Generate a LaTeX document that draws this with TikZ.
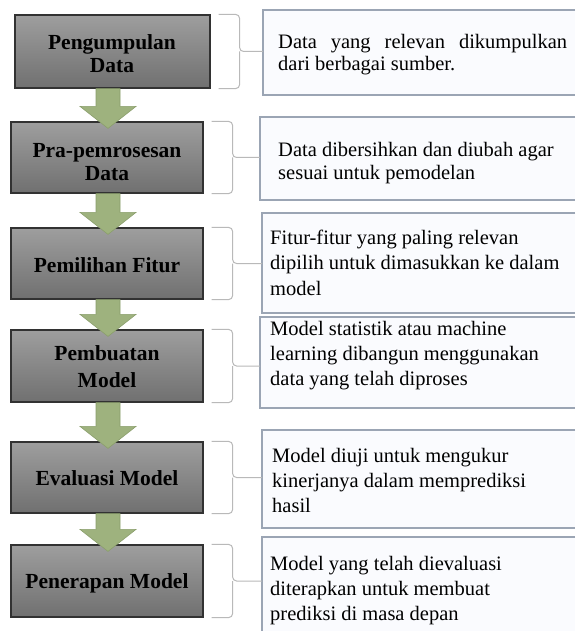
\documentclass[tikz,border=0pt]{standalone}
\usepackage{fontspec}
\setmainfont{Liberation Serif}
\usetikzlibrary{calc}

\definecolor{boxtop}{RGB}{158,158,158}
\definecolor{boxbot}{RGB}{112,112,112}
\definecolor{boxline}{RGB}{50,50,50}
\definecolor{arrowfill}{RGB}{158,178,126}
\definecolor{arrowline}{RGB}{138,158,108}
\definecolor{bracecol}{RGB}{185,185,185}
\definecolor{notefill}{RGB}{250,251,254}
\definecolor{noteline}{RGB}{155,165,180}

\tikzset{
  stepbox/.style={draw=boxline, line width=1.2pt, top color=boxtop, bottom color=boxbot,
    rectangle, inner sep=0pt},
  steptext/.style={anchor=base, inner sep=0pt, font=\fontsize{21.5}{23}\selectfont\bfseries},
  notebox/.style={fill=notefill, rectangle, inner sep=0pt, outer sep=0pt},
  noteedge/.style={draw=noteline, line width=1.3pt},
  notetext/.style={anchor=base west, inner sep=0pt, font=\fontsize{20.5}{25}\selectfont},
  flowstyle/.style={fill=arrowfill, draw=arrowline, line width=0.6pt, line join=miter},
  bracestyle/.style={draw=bracecol, line width=1pt, rounded corners=4pt},
}

% green block arrow from the bottom of one step to the top of the next
\newcommand{\flowarrow}[2]{%
  \path[flowstyle]
    ($(#1.south -| ax)+(-12,0)$) -- ($(#1.south -| ax)+(12,0)$)
    -- ($(#2.north -| ax)+(12,-15)$) -- ($(#2.north -| ax)+(28,-15)$)
    -- ($(#2.north -| ax)+(0,7)$)
    -- ($(#2.north -| ax)+(-28,-15)$) -- ($(#2.north -| ax)+(-12,-15)$) -- cycle;}

% bracket joining a step to its description
\newcommand{\notebrace}[2]{%
  \draw[bracestyle] ($(#1.north east)+(8,0)$) -- ($(#1.north east)+(29,0)$)
    -- ($(#1.east)+(29,0)$) -- (#2.west |- #1.east);
  \draw[bracestyle] ($(#1.east)+(29,0)$) -- ($(#1.south east)+(29,0)$)
    -- ($(#1.south east)+(8,0)$);}

% outline of a description box whose right side is left open
\newcommand{\noteoutline}[1]{%
  \draw[noteedge] (#1.north east) -- (#1.north west) -- (#1.south west) -- (#1.south east);}

\newcommand{\steplines}[2]{\parbox[t]{190pt}{\centering\baselineskip=#1pt #2}}
\newcommand{\notelines}[2]{\parbox[t]{310pt}{\raggedright\baselineskip=#1pt #2}}

\begin{document}
\begin{tikzpicture}[x=1pt, y=-1pt]
  \useasboundingbox (0,0) rectangle (578,631);
  \fill[white] (-5,-5) rectangle (590,640);

  \coordinate (ax) at (108,0);

  % description boxes
  \node[notebox, minimum width=312pt, minimum height=85pt]  (n1) at (419,52.5) {};
  \node[notebox, minimum width=315pt, minimum height=83pt]  (n2) at (417.5,158.5) {};
  \node[notebox, minimum width=313pt, minimum height=100pt] (n3) at (418.5,263) {};
  \node[notebox, minimum width=315pt, minimum height=91pt]  (n4) at (417.5,362.5) {};
  \node[notebox, minimum width=313pt, minimum height=98pt]  (n5) at (418.5,479) {};
  \node[notebox, minimum width=313pt, minimum height=108pt] (n6) at (418.5,591) {};
  \noteoutline{n1}
  \noteoutline{n2}
  \noteoutline{n3}
  \noteoutline{n4}
  \noteoutline{n5}
  \noteoutline{n6}

  % process steps
  \node[stepbox, minimum width=195pt, minimum height=73pt] (b1) at (112.5,51.5) {};
  \node[stepbox, minimum width=192pt, minimum height=71pt] (b2) at (107,157.5) {};
  \node[stepbox, minimum width=192pt, minimum height=71pt] (b3) at (107,263.5) {};
  \node[stepbox, minimum width=192pt, minimum height=72pt] (b4) at (107,366) {};
  \node[stepbox, minimum width=192pt, minimum height=71pt] (b5) at (107,477.5) {};
  \node[stepbox, minimum width=192pt, minimum height=72pt] (b6) at (107,581) {};

  \node[steptext] (s1) at (112,50)  {\steplines{23}{Pengumpulan\\Data}};
  \node[steptext] (s2) at (107,158) {\steplines{22}{Pra-pemrosesan\\Data}};
  \node[steptext] (s3) at (107,272) {\steplines{23}{Pemilihan Fitur}};
  \node[steptext] (s4) at (107,360) {\steplines{27}{Pembuatan\\Model}};
  \node[steptext] (s5) at (107,485) {\steplines{23}{Evaluasi Model}};
  \node[steptext] (s6) at (107,588) {\steplines{23}{Penerapan Model}};

  % arrows between the steps
  \flowarrow{b1}{b2}
  \flowarrow{b2}{b3}
  \flowarrow{b3}{b4}
  \flowarrow{b4}{b5}
  \flowarrow{b5}{b6}

  % brackets
  \notebrace{b1}{n1}
  \notebrace{b2}{n2}
  \notebrace{b3}{n3}
  \notebrace{b4}{n4}
  \notebrace{b5}{n5}
  \notebrace{b6}{n6}

  % descriptions
  \node[notetext] (d1) at (278,49) {\notelines{22}{\makebox[289pt][s]{Data yang relevan dikumpulkan}\\dari berbagai sumber.}};
  \node[notetext] (d2) at (278,157) {\notelines{23}{Data dibersihkan dan diubah agar\\sesuai untuk pemodelan}};
  \node[notetext] (d3) at (270,244) {\notelines{25.5}{Fitur-fitur yang paling relevan\\dipilih untuk dimasukkan ke dalam\\model}};
  \node[notetext] (d4) at (270,335) {\notelines{25}{Model statistik atau machine\\learning dibangun menggunakan\\data yang telah diproses}};
  \node[notetext] (d5) at (272,462) {\notelines{25}{Model diuji untuk mengukur\\kinerjanya dalam memprediksi\\hasil}};
  \node[notetext] (d6) at (270,570) {\notelines{25}{Model yang telah dievaluasi\\diterapkan untuk membuat\\prediksi di masa depan}};
\end{tikzpicture}
\end{document}
